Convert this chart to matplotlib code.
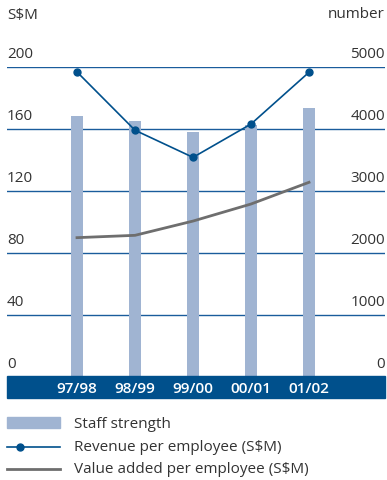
import matplotlib.pyplot as plt
from matplotlib.patches import Rectangle

plt.rcParams['font.family'] = ['Open Sans', 'DejaVu Sans']

years = ["97/98", "98/99", "99/00", "00/01", "01/02"]
staff = [4210, 4130, 3950, 4065, 4340]
revenue = [196.8, 159.2, 141.7, 163.2, 196.6]
value_added = [89.9, 91.4, 100.6, 111.6, 125.6]
left_ticks = [0, 40, 80, 120, 160, 200]
right_ticks = [0, 1000, 2000, 3000, 4000, 5000]

dark_blue = "#00508c"
bar_blue = "#a0b4d2"
grey = "#6e6e6e"
text_col = "#333333"

W, H = 387, 481
fig = plt.figure(figsize=(W / 100, H / 100), dpi=100)

# axes in pixel terms: x 7..385, y 378 (zero) .. 68 (200)
x0, x1, yb, yt = 7, 385, 378, 68
ax = fig.add_axes([x0 / W, (H - yb) / H, (x1 - x0) / W, (yb - yt) / H])
ax2 = ax.twinx()
ax.set_zorder(ax2.get_zorder() + 1)
ax.patch.set_visible(False)

xs = list(range(len(years)))
xl = ((x0 - 77) / 58, (x1 - 77) / 58)
for a in (ax, ax2):
    a.set_xlim(*xl)
    a.axis("off")
ax.set_ylim(0, 200)
ax2.set_ylim(0, 5000)

# gridlines and labels on both sides
for lv, rv in zip(left_ticks, right_ticks):
    if lv > 0:
        ax2.axhline(rv, color="#1a5c9c", lw=1.0, zorder=0)
    ax.annotate(str(lv), (xl[0], lv), xytext=(0, 4), textcoords="offset points",
                ha="left", va="bottom", fontsize=11, color=text_col)
    ax.annotate(str(rv), (xl[1], lv), xytext=(0, 4), textcoords="offset points",
                ha="right", va="bottom", fontsize=11, color=text_col)

ax2.bar(xs, staff, width=12 / 58, color=bar_blue, zorder=1)
ax.plot(xs, revenue, color=dark_blue, lw=1.2, marker="o", ms=5, zorder=3)
ax.plot(xs, value_added, color=grey, lw=2, zorder=3)

fig.text(x0 / W, 1 - 15 / H, "S$M", ha="left", va="center", fontsize=11, color=text_col)
fig.text(x1 / W, 1 - 15 / H, "number", ha="right", va="center", fontsize=11, color=text_col)

# category band under the plot
fig.patches.append(Rectangle((x0 / W, 1 - 399 / H), (x1 - x0) / W, 22 / H,
                             transform=fig.transFigure, color=dark_blue, zorder=0))
for i, yr in enumerate(years):
    fig.text((77 + 58 * i) / W, 1 - 389 / H, yr, ha="center", va="center",
             fontsize=11, color="white", fontweight="semibold")

# legend
fig.patches.append(Rectangle((x0 / W, 1 - 429 / H), 53 / W, 11 / H,
                             transform=fig.transFigure, color=bar_blue))
fig.add_artist(plt.Line2D([x0 / W, 60 / W], [1 - 447.5 / H] * 2, color=dark_blue, lw=1.2))
fig.add_artist(plt.Line2D([20 / W], [1 - 447.5 / H], color=dark_blue, marker="o", ms=5))
fig.add_artist(plt.Line2D([x0 / W, 60 / W], [1 - 470 / H] * 2, color=grey, lw=2))
labels = ["Staff strength", "Revenue per employee (S$M)", "Value added per employee (S$M)"]
for yy, lab in zip([424, 447.5, 470], labels):
    fig.text(74 / W, 1 - yy / H, lab, ha="left", va="center", fontsize=11, color=text_col)

fig.savefig("out.png", dpi=100)
